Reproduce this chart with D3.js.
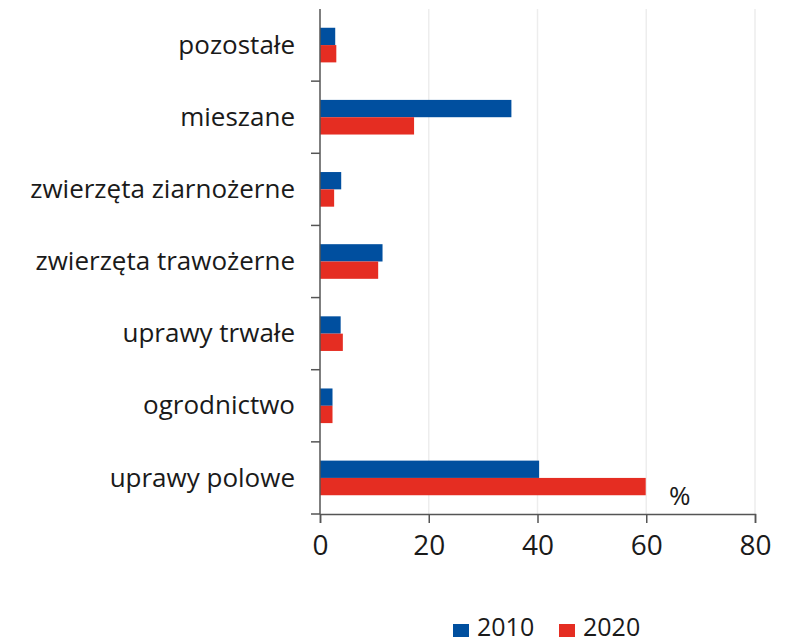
<!DOCTYPE html>
<html>
<head>
<meta charset="utf-8">
<script src="https://cdn.jsdelivr.net/npm/d3@7"></script>
<style>
  body { margin: 0; background: #fff; }
  text { font-family: "Open Sans", "Noto Sans", sans-serif; fill: #1a1a1a; }
</style>
</head>
<body>
<svg id="chart" width="798" height="643"></svg>
<script>
// ------ data
var categories = ["pozostałe", "mieszane", "zwierzęta ziarnożerne", "zwierzęta trawożerne",
                  "uprawy trwałe", "ogrodnictwo", "uprawy polowe"];
var values2010 = [2.8, 35.2, 3.9, 11.5, 3.8, 2.3, 40.3];
var values2020 = [3.0, 17.3, 2.6, 10.7, 4.2, 2.3, 59.9];
var seriesNames = ["2010", "2020"];
var xTicks = [0, 20, 40, 60, 80];

var colors = ["#004f9f", "#e52d22"];

// ------ layout
var margin = {top: 9, left: 320, right: 43, bottom: 129},
    width = 798 - margin.left - margin.right,
    height = 643 - margin.top - margin.bottom;

var svg = d3.select("#chart")
  .append("g")
  .attr("transform", "translate(" + margin.left + "," + margin.top + ")");

var x = d3.scaleLinear().domain([0, 80]).range([0, width]);
var y = d3.scaleBand().domain(categories).range([0, height]).paddingInner(0.52).paddingOuter(0.26);
var ySub = d3.scaleBand().domain(seriesNames).range([0, y.bandwidth()]);

// gridlines
svg.selectAll(".grid")
  .data(xTicks.slice(1))
  .enter().append("line")
  .attr("x1", d => x(d)).attr("x2", d => x(d))
  .attr("y1", 0).attr("y2", height)
  .attr("stroke", "#ededed").attr("stroke-width", 1.5);

// bars
var rows = categories.map((c, i) => ({cat: c, vals: [values2010[i], values2020[i]]}));
var groups = svg.selectAll(".row")
  .data(rows)
  .enter().append("g")
  .attr("transform", d => "translate(0," + y(d.cat) + ")");

groups.selectAll("rect")
  .data(d => d.vals.map((v, j) => ({s: seriesNames[j], v: v, j: j})))
  .enter().append("rect")
  .attr("x", x(0))
  .attr("y", d => ySub(d.s))
  .attr("width", d => x(d.v) - x(0))
  .attr("height", ySub.bandwidth())
  .attr("fill", d => colors[d.j]);

// y axis (ticks between categories)
var step = y.step();
svg.append("line")
  .attr("x1", 0).attr("x2", 0).attr("y1", 0).attr("y2", height)
  .attr("stroke", "#555").attr("stroke-width", 1.5);
svg.selectAll(".ytick")
  .data(d3.range(1, categories.length + 1))
  .enter().append("line")
  .attr("x1", -9).attr("x2", 0)
  .attr("y1", d => d * step).attr("y2", d => d * step)
  .attr("stroke", "#555").attr("stroke-width", 1.5);

svg.selectAll(".ylabel")
  .data(categories)
  .enter().append("text")
  .attr("x", -25)
  .attr("y", d => y(d) + y.bandwidth() / 2)
  .attr("dy", "0.33em")
  .attr("text-anchor", "end")
  .style("font-size", "26px")
  .text(d => d);

// x axis
var xAxis = svg.append("g")
  .attr("transform", "translate(0," + height + ")")
  .call(d3.axisBottom(x).tickValues(xTicks).tickSize(9).tickPadding(12));
xAxis.select(".domain").attr("stroke", "#555").attr("stroke-width", 1.5);
xAxis.selectAll(".tick line").attr("stroke", "#555").attr("stroke-width", 1.5);
xAxis.selectAll(".tick text")
  .style("font-size", "28px")
  .style("font-family", "'Open Sans', 'Noto Sans', sans-serif")
  .attr("fill", "#1a1a1a");

svg.append("text")
  .attr("x", x(64.2))
  .attr("y", height - 9)
  .style("font-size", "26px")
  .text("%");

// legend
var legend = d3.select("#chart").append("g")
  .attr("transform", "translate(453,623)");
var items = legend.selectAll(".leg")
  .data(seriesNames)
  .enter().append("g")
  .attr("transform", (d, i) => "translate(" + (i * 106) + ",0)");
items.append("rect")
  .attr("y", 1).attr("width", 16).attr("height", 13)
  .attr("fill", (d, i) => colors[i]);
items.append("text")
  .attr("x", 24).attr("y", 13)
  .style("font-size", "25px")
  .text(d => d);
</script>
</body>
</html>
